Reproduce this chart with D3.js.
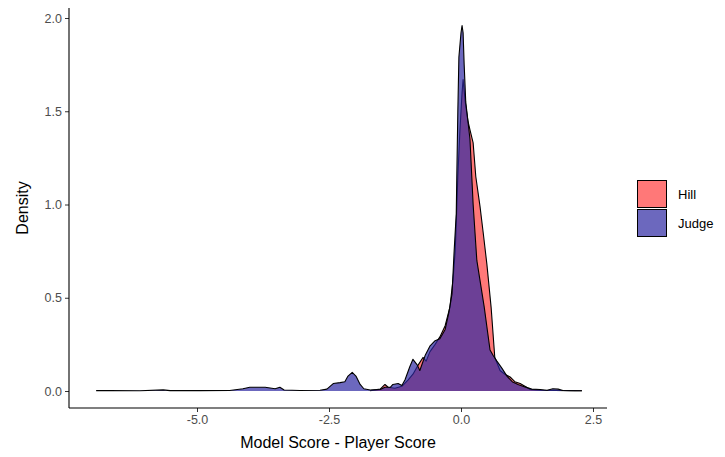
<!DOCTYPE html>
<html>
<head>
<meta charset="utf-8">
<script src="https://cdn.jsdelivr.net/npm/d3@7"></script>
<style>
  html, body { margin: 0; padding: 0; background: #fff; }
  svg { display: block; font-family: "Liberation Sans", Arial, sans-serif; }
</style>
</head>
<body>
<svg id="chart" width="725" height="457"></svg>
<script>
// Density estimates of (model score - player score), one curve per player
const hillX = [-1.72, -1.53, -1.44, -1.38, -1.25, -1.12, -1.0, -0.91, -0.81, -0.72, -0.66, -0.59, -0.49, -0.40, -0.30, -0.21, -0.15, -0.11, -0.09, -0.06, -0.02, 0.02, 0.04, 0.08, 0.13, 0.17, 0.23, 0.28, 0.36, 0.42, 0.49, 0.57, 0.64, 0.74, 0.83, 0.93, 1.02, 1.12, 1.21, 1.31, 1.50, 1.78, 2.06, 2.29];
const hillY = [0.002, 0.01, 0.035, 0.02, 0.015, 0.025, 0.06, 0.09, 0.14, 0.18, 0.16, 0.21, 0.25, 0.29, 0.35, 0.45, 0.60, 0.75, 0.90, 1.15, 1.40, 1.60, 1.67, 1.55, 1.45, 1.40, 1.33, 1.15, 0.99, 0.85, 0.68, 0.45, 0.18, 0.11, 0.09, 0.075, 0.05, 0.04, 0.025, 0.008, 0.004, 0.003, 0.002, 0.001];

const judgeX = [-6.91, -6.65, -6.08, -5.64, -5.51, -4.94, -4.38, -4.13, -4.00, -3.71, -3.52, -3.43, -3.35, -3.05, -2.67, -2.54, -2.42, -2.29, -2.20, -2.14, -2.06, -1.99, -1.91, -1.84, -1.72, -1.53, -1.44, -1.34, -1.29, -1.19, -1.12, -1.06, -0.97, -0.91, -0.83, -0.78, -0.68, -0.59, -0.49, -0.40, -0.30, -0.23, -0.17, -0.13, -0.09, -0.08, -0.06, -0.04, 0.0, 0.02, 0.04, 0.06, 0.09, 0.17, 0.23, 0.30, 0.44, 0.55, 0.61, 0.68, 0.78, 0.87, 0.97, 1.08, 1.21, 1.34, 1.50, 1.63, 1.74, 1.84, 1.93, 2.16, 2.29];
const judgeY = [0.002, 0.002, 0.001, 0.006, 0.002, 0.002, 0.003, 0.012, 0.02, 0.02, 0.012, 0.02, 0.005, 0.003, 0.004, 0.01, 0.04, 0.045, 0.05, 0.08, 0.10, 0.08, 0.035, 0.012, 0.005, 0.008, 0.02, 0.02, 0.035, 0.04, 0.03, 0.06, 0.13, 0.17, 0.14, 0.11, 0.19, 0.24, 0.27, 0.28, 0.33, 0.42, 0.52, 0.75, 0.95, 1.14, 1.5, 1.79, 1.92, 1.96, 1.92, 1.75, 1.55, 1.35, 1.00, 0.70, 0.45, 0.22, 0.19, 0.16, 0.12, 0.08, 0.05, 0.035, 0.022, 0.01, 0.008, 0.004, 0.012, 0.01, 0.003, 0.001, 0.001];

const seriesNames = ["Hill", "Judge"];
const xTicks = [-5.0, -2.5, 0.0, 2.5];
const yTicks = [0.0, 0.5, 1.0, 1.5, 2.0];

const fills = { Hill: "rgb(255,0,0)", Judge: "rgb(45,40,162)" };
const fillOpacity = { Hill: 0.53, Judge: 0.7 };

const svg = d3.select("#chart");
const panel = { left: 69, right: 607, top: 8, bottom: 408 };

const x = d3.scaleLinear().domain([0, 2.5]).range([461, 593]);
const y = d3.scaleLinear().domain([0, 2]).range([391, 18]);

const series = [
  { name: "Hill", pts: hillX.map((v, i) => [v, hillY[i]]) },
  { name: "Judge", pts: judgeX.map((v, i) => [v, judgeY[i]]) }
];

const area = d3.area().x(d => x(d[0])).y0(y(0)).y1(d => y(d[1]));
const line = d3.line().x(d => x(d[0])).y(d => y(d[1]));

const g = svg.append("g");
series.forEach(s => {
  g.append("path")
    .attr("d", area(s.pts))
    .attr("fill", fills[s.name])
    .attr("fill-opacity", fillOpacity[s.name]);
  g.append("path")
    .attr("d", line(s.pts))
    .attr("fill", "none")
    .attr("stroke", "#000")
    .attr("stroke-width", 1.1)
    .attr("stroke-linejoin", "round");
});

// axes (plain hyphen for negative numbers)
const fmt = d => d.toFixed(1);
const xAxis = d3.axisBottom(x).tickValues(xTicks).tickFormat(fmt).tickSize(4).tickPadding(3);
const yAxis = d3.axisLeft(y).tickValues(yTicks).tickFormat(fmt).tickSize(4).tickPadding(3);

const gx = svg.append("g").attr("transform", `translate(0,${panel.bottom})`).call(xAxis);
const gy = svg.append("g").attr("transform", `translate(${panel.left},0)`).call(yAxis);

[gx, gy].forEach(ax => {
  ax.select(".domain").remove();
  ax.selectAll(".tick line").attr("stroke", "#333").attr("stroke-width", 1);
  ax.selectAll(".tick text").attr("fill", "#4d4d4d").style("font-size", "12.5px");
});

svg.append("line")
  .attr("x1", panel.left).attr("x2", panel.right)
  .attr("y1", panel.bottom).attr("y2", panel.bottom)
  .attr("stroke", "#000").attr("stroke-width", 1.1);
svg.append("line")
  .attr("x1", panel.left).attr("x2", panel.left)
  .attr("y1", panel.top).attr("y2", panel.bottom)
  .attr("stroke", "#000").attr("stroke-width", 1.1);

// axis titles
svg.append("text")
  .attr("x", (panel.left + panel.right) / 2).attr("y", 448)
  .attr("text-anchor", "middle")
  .style("font-size", "16px").attr("fill", "#000")
  .text("Model Score - Player Score");
svg.append("text")
  .attr("transform", `translate(28,${(panel.top + panel.bottom) / 2}) rotate(-90)`)
  .attr("text-anchor", "middle")
  .style("font-size", "16px").attr("fill", "#000")
  .text("Density");

// legend
const legend = svg.append("g").attr("transform", "translate(637,180)");
seriesNames.forEach((name, i) => {
  const row = legend.append("g").attr("transform", `translate(0,${i * 29})`);
  row.append("rect")
    .attr("x", 0.5).attr("y", 0.5).attr("width", 29).attr("height", 27)
    .attr("fill", "#fff");
  row.append("rect")
    .attr("x", 0.5).attr("y", 0.5).attr("width", 29).attr("height", 27)
    .attr("fill", fills[name]).attr("fill-opacity", fillOpacity[name])
    .attr("stroke", "#000").attr("stroke-width", 1);
  row.append("text")
    .attr("x", 41).attr("y", 14).attr("dy", "0.35em")
    .style("font-size", "13px").attr("fill", "#000")
    .text(name);
});
</script>
</body>
</html>
